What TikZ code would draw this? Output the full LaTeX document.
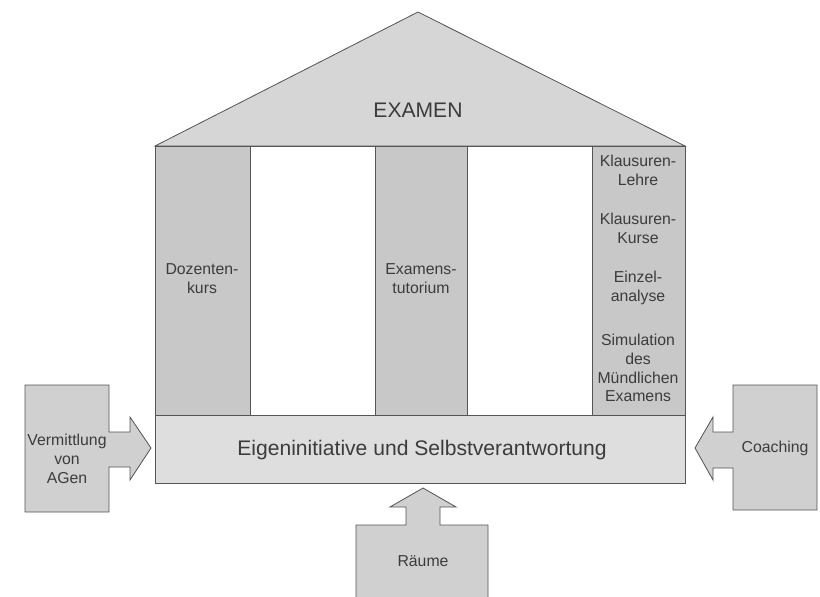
\documentclass[tikz,border=0pt]{standalone}
\usepackage{fontspec}
\setmainfont{Liberation Sans}
\usetikzlibrary{positioning,calc}
\definecolor{RoofGray}{RGB}{214,214,214}
\definecolor{PillarGray}{RGB}{200,200,200}
\definecolor{BandGray}{RGB}{222,222,222}
\definecolor{BoxGray}{RGB}{208,208,208}
\definecolor{LineGray}{RGB}{85,85,85}
\definecolor{InkGray}{RGB}{60,60,60}
\tikzset{
  part/.style={draw=LineGray,line width=0.7pt,line join=miter},
  lbl/.style={text=InkGray,font=\fontsize{13.5}{16}\selectfont,align=center,inner sep=0pt},
  big/.style={text=InkGray,font=\fontsize{18}{21}\selectfont,inner sep=0pt},
}

\begin{document}
\begin{tikzpicture}[x=0.03cm,y=-0.03cm]
\useasboundingbox (0,0) rectangle (820,597);
\clip (0,0) rectangle (820,597);
% roof
\coordinate (apex) at (418,12);
\coordinate (eaveL) at (155,146);
\coordinate (eaveR) at (685,146);
\draw[part,fill=RoofGray] (eaveL) -- (apex) -- (eaveR) -- cycle;
% pillars and gaps
\draw[part,fill=PillarGray] (155,146) rectangle (250,415);
\draw[part,fill=white] (250,146) rectangle (375,415);
\draw[part,fill=PillarGray] (375,146) rectangle (467,415);
\draw[part,fill=white] (467,146) rectangle (592,415);
\draw[part,fill=PillarGray] (592,146) rectangle (685,415);
% base band
\draw[part,fill=BandGray] (155,415) rectangle (685,483);
% side boxes with block arrows
\draw[part,fill=BoxGray] (25,385) -- (109,385) -- (109,432) -- (130,432) -- (130,417)
  -- (151,448) -- (130,480) -- (130,467) -- (109,467) -- (109,512) -- (25,512) -- cycle;
\draw[part,fill=BoxGray] (817,385) -- (733,385) -- (733,432) -- (713,432) -- (713,417)
  -- (695,448) -- (713,480) -- (713,468) -- (733,468) -- (733,510) -- (817,510) -- cycle;
\draw[part,fill=BoxGray] (356,605) -- (356,525) -- (406,525) -- (406,507) -- (390,507)
  -- (423,488) -- (456,507) -- (440,507) -- (440,525) -- (488,525) -- (488,605);

\node[big] (examen) at (418,110) {EXAMEN};
\node[big] (basis) at (422,450) {Eigeninitiative und Selbstverantwortung};
\node[lbl] (dozent) at (202,279) {Dozenten-\\kurs};
\node[lbl] (tutor) at (421,279) {Examens-\\tutorium};
\node[lbl] (klLehre) at (638,170) {Klausuren-\\Lehre};
\node[lbl] (klKurse) at (638,228) {Klausuren-\\Kurse};
\node[lbl] (einzel) at (638,288) {Einzel-\\analyse};
\node[lbl] (simul) at (638,368) {Simulation\\des\\Mündlichen\\Examens};
\node[lbl] (agen) at (67,459) {Vermittlung\\von\\AGen};
\node[lbl] (coach) at (775,448) {Coaching};
\node[lbl] (raeume) at (423,561) {Räume};
\end{tikzpicture}
\end{document}
